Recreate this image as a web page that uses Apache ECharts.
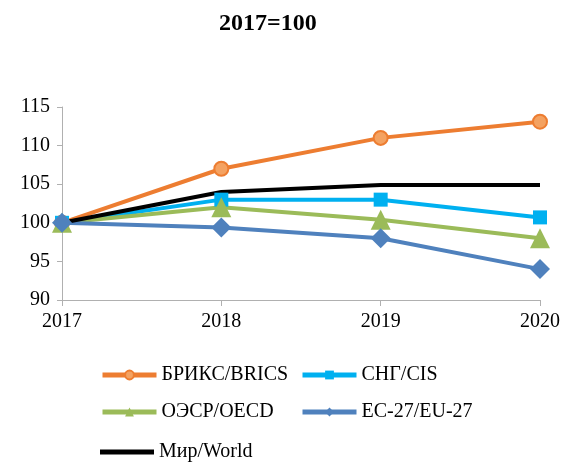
<!DOCTYPE html>
<html>
<head>
<meta charset="utf-8">
<script src="https://cdn.jsdelivr.net/npm/echarts@6/dist/echarts.min.js"></script>
<style>
  html, body { margin: 0; padding: 0; background: #fff; }
  #chart { width: 569px; height: 468px; }
</style>
</head>
<body>
<div id="chart"></div>
<script>
const years = ['2017', '2018', '2019', '2020']
const brics = [100, 107, 111, 113.1]
const cis = [100, 103, 103, 100.7]
const oecd = [100, 102, 100.4, 98]
const eu27 = [100, 99.4, 98, 94]
const world = [100, 104, 104.9, 104.9]

const font = 'Liberation Serif'

const chart = echarts.init(document.getElementById('chart'))

function legendAt(name, left, top, extra) {
  return Object.assign({
    data: [name], left: left, top: top, padding: 0,
    itemWidth: 54, itemHeight: 11, itemGap: 4,
    lineStyle: { width: 5 },
    textStyle: { fontFamily: font, fontSize: 20, color: '#000' },
  }, extra || {})
}

chart.setOption({
  animation: false,
  title: {
    text: '2017=100', left: 214, top: 7,
    textStyle: { fontFamily: font, fontSize: 24, fontWeight: 'bold', color: '#000' },
  },
  legend: [
    legendAt('БРИКС/BRICS', 100, 365),
    legendAt('СНГ/CIS', 300, 365),
    legendAt('ОЭСР/OECD', 100, 402),
    legendAt('ЕС-27/EU-27', 300, 402),
    legendAt('Мир/World', 100, 442, { icon: 'rect', itemHeight: 5 }),
  ],
  grid: { left: 62, right: 29, top: 107, bottom: 168 },
  xAxis: {
    type: 'category', data: years, boundaryGap: false,
    axisLine: { lineStyle: { color: '#b0b0b0' } },
    axisTick: { show: true, alignWithLabel: true, length: 6, lineStyle: { color: '#b0b0b0' } },
    axisLabel: { fontFamily: font, fontSize: 20, color: '#000', margin: 12 },
  },
  yAxis: {
    type: 'value', min: 90, max: 115, interval: 5,
    splitLine: { show: false },
    axisLine: { show: true, lineStyle: { color: '#b0b0b0' } },
    axisTick: { show: true, length: 5, lineStyle: { color: '#b0b0b0' } },
    axisLabel: { fontFamily: font, fontSize: 20, color: '#000', margin: 12 },
  },
  series: [
    {
      name: 'БРИКС/BRICS', type: 'line', data: brics,
      lineStyle: { color: '#ED7D31', width: 4 },
      itemStyle: { color: '#F4A261', borderColor: '#ED7D31', borderWidth: 2 },
      symbol: 'circle', symbolSize: 14,
    },
    {
      name: 'СНГ/CIS', type: 'line', data: cis,
      lineStyle: { color: '#00B0F0', width: 4 },
      itemStyle: { color: '#00B0F0' },
      symbol: 'rect', symbolSize: 14,
    },
    {
      name: 'ОЭСР/OECD', type: 'line', data: oecd,
      lineStyle: { color: '#9BBB59', width: 4 },
      itemStyle: { color: '#9BBB59' },
      symbol: 'triangle', symbolSize: 20,
    },
    {
      name: 'ЕС-27/EU-27', type: 'line', data: eu27,
      lineStyle: { color: '#4F81BD', width: 4 },
      itemStyle: { color: '#4F81BD' },
      symbol: 'diamond', symbolSize: 20,
    },
    {
      name: 'Мир/World', type: 'line', data: world,
      lineStyle: { color: '#000', width: 4 },
      itemStyle: { color: '#000' },
      symbol: 'none',
    },
  ],
})
</script>
</body>
</html>
